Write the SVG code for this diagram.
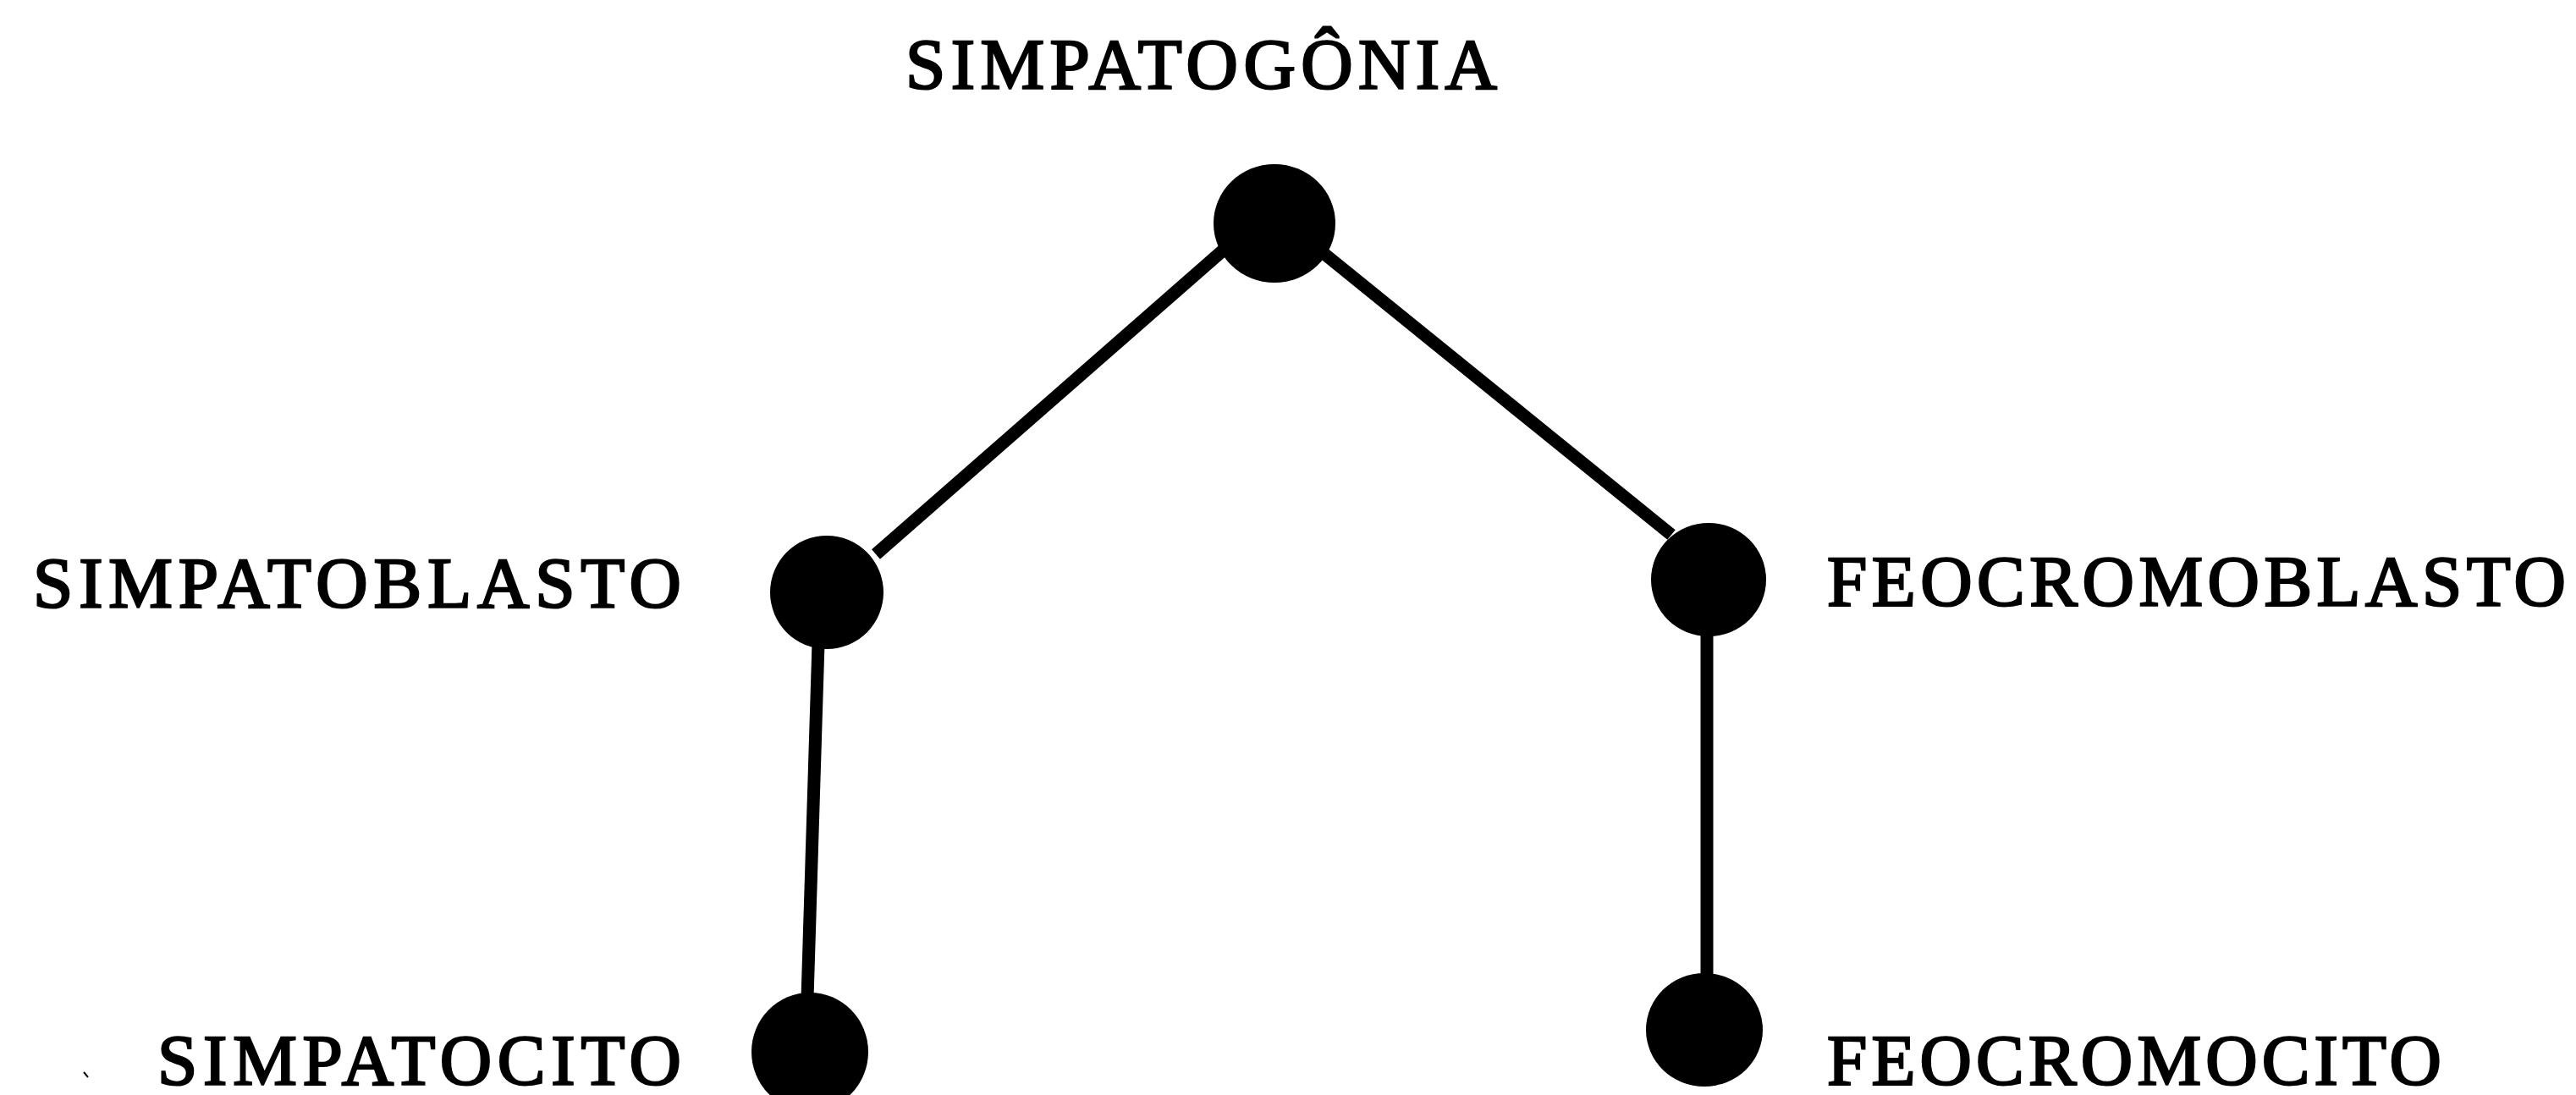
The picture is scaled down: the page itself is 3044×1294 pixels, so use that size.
<svg xmlns="http://www.w3.org/2000/svg" width="3044" height="1294" viewBox="0 0 3044 1294">
<style>
.lbl{font-family:"Liberation Serif","Times New Roman",serif;font-size:85px;fill:#000;stroke:#000;stroke-width:2.5px;}
.cell{fill:#000;}
.con{stroke:#000;stroke-width:15;stroke-linecap:butt;fill:none;}
</style>
<rect width="3044" height="1294" fill="#fff"/>
<g id="connectors">
<line class="con" x1="1445" y1="296" x2="1035" y2="655"/>
<line class="con" x1="1565" y1="300" x2="1975" y2="632"/>
<line class="con" x1="967" y1="760" x2="954" y2="1180"/>
<line class="con" x1="2017" y1="750" x2="2017" y2="1155"/>
</g>
<g id="simpatogonia">
<ellipse class="cell" cx="1506" cy="264" rx="72" ry="70"/>
<text class="lbl" x="1070" y="105" textLength="699" lengthAdjust="spacing">SIMPATOGÔNIA</text>
</g>
<g id="simpatoblasto">
<ellipse class="cell" cx="977" cy="700" rx="67" ry="67"/>
<text class="lbl" x="39" y="718" textLength="766" lengthAdjust="spacing">SIMPATOBLASTO</text>
</g>
<g id="feocromoblasto">
<ellipse class="cell" cx="2019" cy="685" rx="68" ry="67"/>
<text class="lbl" x="2159" y="716" textLength="873" lengthAdjust="spacing">FEOCROMOBLASTO</text>
</g>
<g id="simpatocito">
<ellipse class="cell" cx="957" cy="1243" rx="69" ry="70"/>
<text class="lbl" x="186" y="1282" textLength="619" lengthAdjust="spacing">SIMPATOCITO</text>
</g>
<g id="feocromocito">
<ellipse class="cell" cx="2014" cy="1217" rx="69" ry="67"/>
<text class="lbl" x="2159" y="1282" textLength="726" lengthAdjust="spacing">FEOCROMOCITO</text>
</g>
<line x1="99" y1="1267" x2="104" y2="1273" stroke="#000" stroke-width="2"/>
</svg>
